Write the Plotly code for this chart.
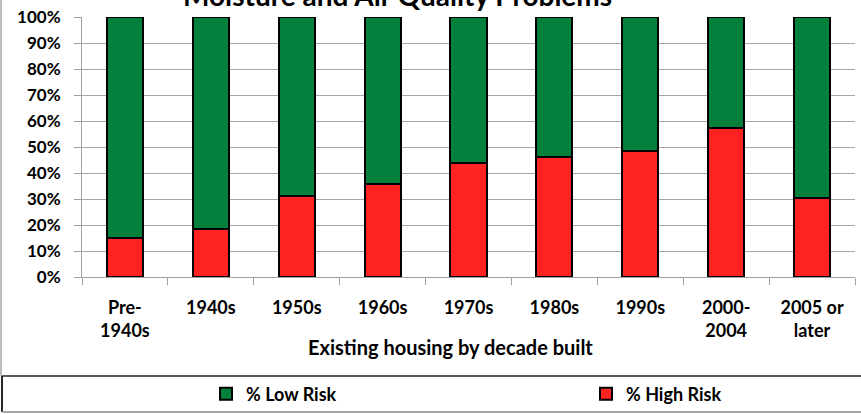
import plotly.graph_objects as go

decades = ["Pre-<br>1940s", "1940s", "1950s", "1960s", "1970s", "1980s",
           "1990s", "2000-<br>2004", "2005 or<br>later"]
high_risk = [15.0, 18.3, 31.2, 35.6, 43.7, 46.0, 48.3, 57.3, 30.3]
low_risk = [100 - v for v in high_risk]

W, H = 861, 414
L, R, T, B = 82, 6, 17, 137
FONT = "Lato"

fig = go.Figure()

fig.add_trace(go.Bar(
    x=decades, y=[v / 100 for v in high_risk], name="<b>% High Risk</b>",
    marker=dict(color="#FF2222", line=dict(color="#000000", width=2)),
    legendrank=2,
))
fig.add_trace(go.Bar(
    x=decades, y=[v / 100 for v in low_risk], name="<b>% Low Risk</b>",
    marker=dict(color="#03803C", line=dict(color="#000000", width=2)),
    legendrank=1,
))

pw = W - L - R
ph = H - T - B


def px_x(x):
    return (x - L) / pw


def px_y(y):
    return (H - B - y) / ph


def line(x0, y0, x1, y1, color, width=1.5):
    return dict(type="line", xref="paper", yref="paper",
                x0=px_x(x0), x1=px_x(x1), y0=px_y(y0), y1=px_y(y1),
                line=dict(color=color, width=width), layer="above")


fig.update_layout(
    width=W, height=H,
    margin=dict(l=L, r=R, t=T, b=B, autoexpand=False),
    barmode="stack",
    bargap=0.58,
    plot_bgcolor="white",
    paper_bgcolor="white",
    font=dict(family=FONT, size=17, color="#000000"),
    legend=dict(
        orientation="h",
        xref="container", yref="container",
        x=206 / W, y=1 - 394 / H, xanchor="left", yanchor="middle",
        entrywidth=335, entrywidthmode="pixels",
        font=dict(family=FONT, size=18, color="#000000"),
        bgcolor="rgba(0,0,0,0)",
        traceorder="normal",
    ),
    showlegend=True,
    shapes=[
        # outer chart border (left side)
        line(1, 0, 1, 376, "#A6A6A6", 1.5),
        # legend box
        line(2, 376, 861, 376, "#595959", 2),
        line(2, 376, 2, 412, "#262626", 2),
        line(2, 412, 861, 412, "#A6A6A6", 2),
    ],
    annotations=[
        # chart title, cut off at the top edge as in the source image
        dict(text="<b>Moisture and Air Quality Problems</b>",
             xref="paper", yref="paper", x=px_x(397), y=px_y(-5),
             xanchor="center", yanchor="middle", showarrow=False,
             font=dict(family=FONT, size=28, color="#000000")),
        dict(text="<b>Existing housing by decade built</b>",
             xref="paper", yref="paper", x=px_x(450), y=px_y(347),
             xanchor="center", yanchor="middle", showarrow=False,
             font=dict(family=FONT, size=20, color="#000000")),
    ],
)

fig.update_yaxes(
    range=[0, 1], dtick=0.1, tickformat=".0%",
    ticks="outside", ticklen=7, tickcolor="#A0A0A0",
    showline=True, linecolor="#A0A0A0", linewidth=1,
    showgrid=True, gridcolor="#A6A6A6", gridwidth=1,
    tickfont=dict(family=FONT, size=17, color="#000000"),
    ticklabelstandoff=10,
    zeroline=False, automargin=False,
    tickprefix="<b>", ticksuffix="</b>",
)
fig.update_xaxes(
    tickson="boundaries", ticks="outside", ticklen=7, tickcolor="#A0A0A0",
    showline=True, linecolor="#A0A0A0", linewidth=1,
    tickfont=dict(family=FONT, size=18, color="#000000"),
    tickprefix="<b>", ticksuffix="</b>",
    ticklabelstandoff=14, automargin=False,
)

# page body has an 8px default margin; drop it so the chart sits at 0,0
fig.write_html("out.html", config={"displayModeBar": False},
               post_script="document.body.style.margin='0';")
